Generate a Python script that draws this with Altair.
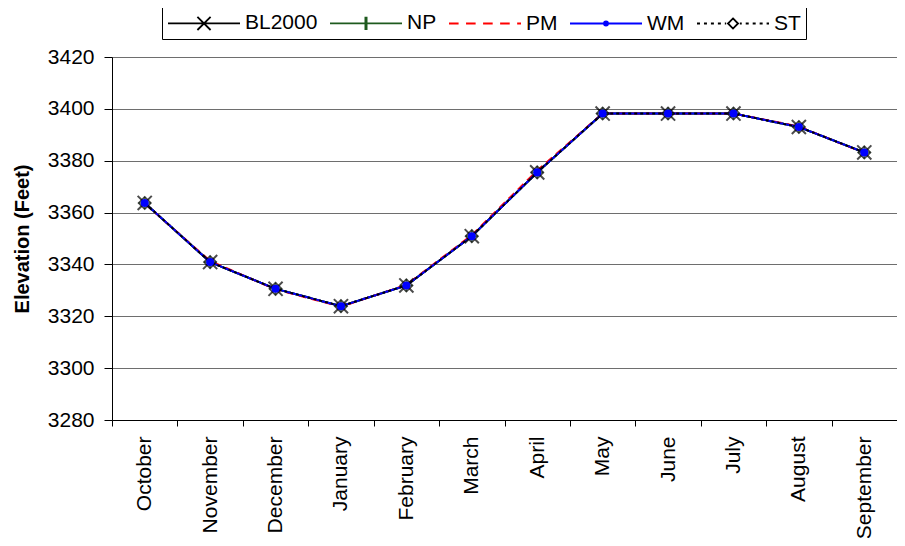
import altair as alt
import pandas as pd

months = ["October", "November", "December", "January", "February", "March",
          "April", "May", "June", "July", "August", "September"]
series = ["BL2000", "NP", "PM", "WM", "ST"]
bl2000 = [3363.7, 3340.9, 3330.6, 3323.9, 3331.9, 3350.9, 3375.5, 3398.2, 3398.2, 3398.2, 3393.0, 3383.2]
np_ = [3363.7, 3340.9, 3330.6, 3323.9, 3331.9, 3350.9, 3375.5, 3398.2, 3398.2, 3398.2, 3393.0, 3383.2]
pm = [3363.5, 3341.3, 3330.4, 3323.7, 3332.1, 3351.3, 3376.2, 3398.2, 3398.2, 3398.2, 3393.2, 3383.0]
wm = [3363.7, 3340.9, 3330.6, 3323.9, 3331.9, 3350.9, 3375.5, 3398.2, 3398.2, 3398.2, 3393.0, 3383.2]
st = [3363.7, 3340.9, 3330.6, 3323.9, 3331.9, 3350.9, 3375.5, 3398.2, 3398.2, 3398.2, 3393.0, 3383.2]
y_ticks = [3280, 3300, 3320, 3340, 3360, 3380, 3400, 3420]

colors = ["#000000", "#1e5a1e", "#ff0000", "#0000ff", "#000000"]
dashes = [[1, 0], [1, 0], [8, 5], [1, 0], [3, 3]]

rows = []
for name, vals in zip(series, [bl2000, np_, pm, wm, st]):
    for m, v in zip(months, vals):
        rows.append({"month": m, "elev": v, "series": name})
df = pd.DataFrame(rows)

FONT = "Liberation Sans, Arial"
FS = 21

# legend symbol paths (line + marker); one unit = 12 px (symbolSize 576)
L0, L1, C = -1.0, 5.0, 2.0


def seg(a, b):
    return f"M{a:.3f},0L{b:.3f},0"


def dashed(a, b, on, off, skip=None):
    out, p = [], a
    while p < b:
        q = min(p + on, b)
        if skip and not (q <= skip[0] or p >= skip[1]):
            if p < skip[0]:
                out.append(seg(p, skip[0]))
            if q > skip[1]:
                out.append(seg(skip[1], q))
        else:
            out.append(seg(p, q))
        p += on + off
    return "".join(out)


r = 0.55
x_mark = f"M{C-r},{-r}L{C+r},{r}M{C-r},{r}L{C+r},{-r}"
plus_mark = f"M{C-r},0L{C+r},0M{C},{-r}L{C},{r}M{C-0.05},{-r}L{C-0.05},{r}M{C+0.05},{-r}L{C+0.05},{r}"
dot = (f"M{C+0.17},0A0.17,0.17 0 1,1 {C-0.17},0A0.17,0.17 0 1,1 {C+0.17},0"
       f"M{C+0.09},0A0.09,0.09 0 1,1 {C-0.09},0A0.09,0.09 0 1,1 {C+0.09},0")
d = 0.42
diamond = f"M{C},{-d}L{C+d},0L{C},{d}L{C-d},0Z"
legend_paths = [
    seg(L0, L1) + x_mark,
    seg(L0, L1) + plus_mark,
    dashed(L0, L1, 0.8, 0.62),
    seg(L0, L1) + dot,
    dashed(L0, L1, 0.25, 0.33, skip=(C - d - 0.15, C + d + 0.15)) + diamond,
]

x_enc = alt.X("month:N", sort=months, bandPosition=0.5,
              scale=alt.Scale(type="band", domain=months, paddingInner=0, paddingOuter=0),
              axis=alt.Axis(title=None, labelAngle=-90, tickBand="extent", grid=False,
                            labelFontSize=FS, labelFont=FONT, labelColor="black",
                            labelPadding=10, tickSize=6, tickColor="black",
                            domainColor="black", labelAlign="right", labelBaseline="middle"))
y_enc = alt.Y("elev:Q", scale=alt.Scale(domain=[3280, 3420], nice=False, zero=False),
              axis=alt.Axis(title="Elevation (Feet)", values=y_ticks, format="d",
                            labelFontSize=FS, labelFont=FONT, labelColor="black",
                            labelPadding=10, tickSize=8, tickColor="black",
                            domainColor="black", gridColor="#6e6e6e", gridWidth=1,
                            titleFont=FONT, titleFontSize=20, titleFontWeight="bold",
                            titleColor="black", titlePadding=15))

base = alt.Chart(df)
layers = []
for name, col, dsh in zip(series, colors, dashes):
    layers.append(base.transform_filter(alt.datum.series == name)
                  .mark_line(color=col, strokeWidth=2 if name != "ST" else 1.8,
                             strokeDash=dsh)
                  .encode(x=x_enc, y=y_enc))

x_path = "M-1,-1L1,1M-1,1L1,-1"
plus_path = "M-1,0L1,0M0,-1L0,1"
layers.append(base.transform_filter(alt.datum.series == "BL2000")
              .mark_point(shape=x_path, size=200, color="black", filled=False, strokeWidth=2)
              .encode(x=x_enc, y=y_enc))
layers.append(base.transform_filter(alt.datum.series == "NP")
              .mark_point(shape=plus_path, size=160, color="#1e5a1e", filled=False, strokeWidth=1.6)
              .encode(x=x_enc, y=y_enc))
layers.append(base.transform_filter(alt.datum.series == "ST")
              .mark_point(shape="diamond", size=150, color="black", filled=False, strokeWidth=1.7)
              .encode(x=x_enc, y=y_enc))
layers.append(base.transform_filter(alt.datum.series == "WM")
              .mark_point(shape="circle", size=65, color="#0000ff", filled=True, opacity=1)
              .encode(x=x_enc, y=y_enc))

leg = alt.Legend(title=None, orient="none", legendX=50, legendY=-52, direction="horizontal",
                 columns=5, columnPadding=8, symbolSize=576, symbolOpacity=1,
                 symbolStrokeWidth=1.8, symbolFillColor="transparent",
                 labelOffset=52, labelFontSize=FS, labelFont=FONT, labelColor="black",
                 labelLimit=0, padding=5, strokeColor="black", fillColor="white",
                 symbolOffset=0)
layers.append(base.mark_point(opacity=0, filled=False).encode(
    x=x_enc, y=y_enc,
    color=alt.Color("series:N", scale=alt.Scale(domain=series, range=colors), legend=leg),
    shape=alt.Shape("series:N", scale=alt.Scale(domain=series, range=legend_paths), legend=leg),
))

chart = alt.layer(*layers).properties(
    width=785, height=363,
    autosize=alt.AutoSizeParams(type="none"),
    padding={"left": 104, "top": 49, "right": 0, "bottom": 118},
).configure_view(stroke=None).configure(background="white")

chart.save("out.html", embed_options={"renderer": "svg", "actions": False})
